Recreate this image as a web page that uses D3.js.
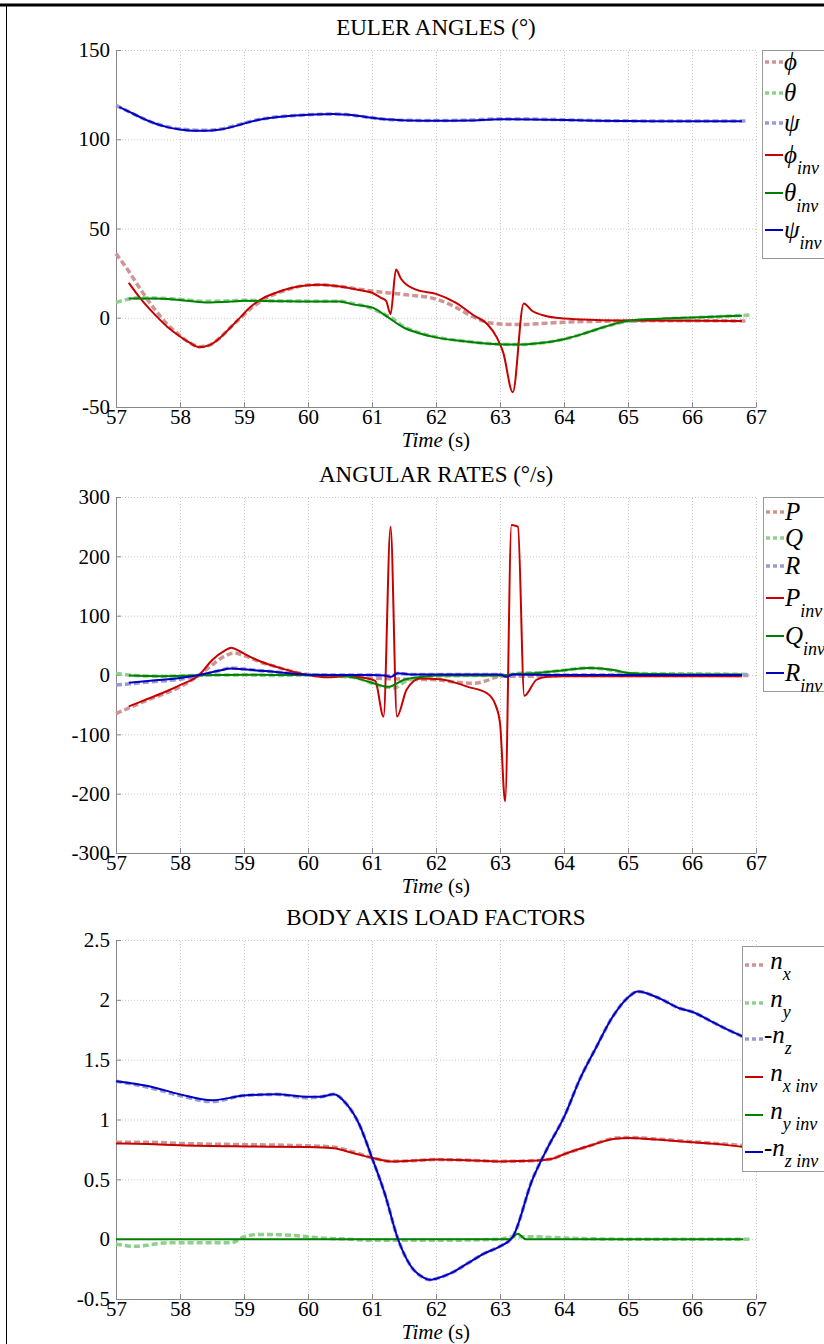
<!DOCTYPE html>
<html>
<head>
<meta charset="utf-8">
<script src="https://cdn.jsdelivr.net/npm/d3@7"></script>
<style>
  body { margin: 0; background: #fff; }
  svg { display: block; font-family: "Liberation Serif", "Times New Roman", serif; }
</style>
</head>
<body>
<div id="chart"></div>
<script>
const timeTicks = [57, 58, 59, 60, 61, 62, 63, 64, 65, 66, 67];
const eulerTicks = [-50, 0, 50, 100, 150];
const rateTicks = [-300, -200, -100, 0, 100, 200, 300];
const loadTicks = [-0.5, 0, 0.5, 1, 1.5, 2, 2.5];

// Euler angles (deg)
const phiRef = [[57.0,35.9],[57.2,26],[57.4,15],[57.6,5],[57.8,-3.5],[58.0,-10],[58.15,-14],[58.3,-16.2],[58.45,-15.5],[58.6,-12],[58.8,-5],[58.95,0],[59.1,5],[59.3,10],[59.5,13.5],[59.75,16.5],[60.0,18.3],[60.2,18.5],[60.5,17.5],[60.8,16],[61.0,15],[61.5,13],[62.0,10.5],[62.3,6],[62.6,0.2],[62.8,-2.6],[63.0,-3.5],[63.3,-3.8],[63.6,-3.3],[64.0,-2.5],[64.5,-2],[65.0,-1.8],[66.0,-1.7],[66.88,-1.8]];
const thetaRef = [[57.0,8.6],[57.15,10],[57.3,11],[57.6,11],[58.0,10.3],[58.4,9.2],[58.8,9.5],[59.0,9.8],[59.5,9.5],[60.0,9.3],[60.5,9.2],[60.7,8],[60.9,6.5],[61.1,3.5],[61.3,0],[61.5,-5],[61.75,-8.5],[62.0,-10.8],[62.5,-13.3],[63.0,-14.8],[63.3,-15],[63.6,-14.3],[64.0,-12],[64.3,-9],[64.6,-5.5],[65.0,-2],[65.5,-0.8],[66.0,0],[66.5,0.8],[66.9,1.5]];
const psiRef = [[57.0,119],[57.2,115.5],[57.4,112],[57.6,109],[57.8,107],[58.0,105.8],[58.2,105.2],[58.4,105],[58.6,105.5],[58.8,107],[59.0,109],[59.2,110.8],[59.4,112],[59.6,112.8],[59.8,113.3],[60.0,113.7],[60.2,114],[60.4,114.2],[60.6,113.8],[60.8,113],[61.0,112],[61.2,111.2],[61.4,110.8],[61.6,110.6],[62.0,110.5],[62.5,110.7],[63.0,111.4],[63.5,111.3],[64.0,110.9],[64.5,110.5],[65.0,110.3],[66.0,110.2],[66.88,110.2]];
const phiInv = [[57.2,19.6],[57.4,10],[57.6,2],[57.8,-5],[58.0,-10.5],[58.15,-14],[58.3,-16.5],[58.45,-15.5],[58.6,-12],[58.8,-5],[58.95,0.5],[59.1,6],[59.3,11],[59.5,14],[59.75,16.8],[60.0,18.2],[60.2,18.5],[60.5,17.5],[60.8,15.5],[61.0,14],[61.15,11],[61.22,9.5],[61.29,2],[61.375,27],[61.45,22],[61.5,19.8],[61.7,15.6],[62.0,13.4],[62.3,8.6],[62.6,1.1],[62.8,-3.5],[62.95,-11],[63.05,-19.4],[63.2,-41.8],[63.37,8],[63.5,3.9],[63.7,1.1],[64.0,-0.4],[64.5,-1.2],[65.0,-1.5],[66.0,-1.7],[66.78,-1.8]];
const thetaInv = [[57.2,10.8],[57.6,10.8],[58.0,9.9],[58.4,8.6],[58.8,9.1],[59.0,9.5],[59.5,9.3],[60.0,9.1],[60.5,9.1],[60.7,7.5],[61.0,5.8],[61.2,1.5],[61.5,-5.6],[61.75,-8.8],[62.0,-11],[62.5,-13.4],[63.0,-14.8],[63.3,-15],[63.6,-14.3],[64.0,-12],[64.3,-9],[64.6,-5.5],[65.0,-1.7],[65.5,-0.5],[66.0,0.2],[66.5,0.8],[66.78,1.1]];
const psiInv = [[57.05,118],[57.2,115.5],[57.4,112],[57.6,109],[57.8,106.8],[58.0,105.5],[58.2,104.8],[58.4,104.7],[58.6,105.3],[58.8,106.8],[59.0,108.8],[59.2,110.6],[59.4,111.9],[59.6,112.7],[59.8,113.3],[60.0,113.7],[60.2,114],[60.4,114.2],[60.6,113.8],[60.8,113],[61.0,112],[61.2,111.2],[61.4,110.8],[61.6,110.5],[62.0,110.3],[62.5,110.5],[63.0,111.2],[63.5,111.1],[64.0,110.8],[64.5,110.4],[65.0,110.2],[66.0,110.1],[66.78,110.1]];

// angular rates (deg/s)
const pRef = [[57.0,-65],[57.5,-42],[58.0,-20],[58.3,0],[58.5,17],[58.7,32],[58.85,37],[59.0,33],[59.25,22],[59.5,14],[59.75,6],[60.0,1],[60.5,-2],[61.0,-5],[61.5,-7],[62.0,-8],[62.3,-12],[62.6,-14],[62.8,-9],[63.0,-2],[63.5,-2],[64.0,-1],[65.0,-1],[66.0,-1],[66.88,-1]];
const qRef = [[57.0,3],[57.3,-1],[57.7,-2],[58.0,-1.5],[58.5,0],[59.0,0],[59.5,-1],[60.0,0],[60.5,-2],[60.8,-6],[61.0,-14],[61.2,-20],[61.35,-22],[61.5,-12],[61.8,-4],[62.0,-2],[62.5,-1],[63.0,-1],[63.3,3],[63.6,4],[64.0,8],[64.4,12],[64.8,7],[65.0,3],[65.5,2],[66.0,2],[66.5,1.5],[66.88,1]];
const rRef = [[57.0,-17],[57.5,-12],[58.0,-7],[58.3,-1],[58.6,7],[58.8,12],[59.0,10],[59.5,5],[60.0,0],[60.5,0],[61.0,0],[61.2,-1],[61.3,-2],[61.4,3],[61.6,1],[62.0,1],[63.0,1],[63.1,-2],[63.2,1],[64.0,0],[65.0,0],[66.0,0],[66.88,0]];
const pInv = [[57.2,-53],[57.5,-40],[57.8,-27],[58.0,-17],[58.3,0],[58.5,25],[58.7,41],[58.8,46],[58.9,42],[59.0,36],[59.3,21],[59.5,14],[59.75,6],[60.0,0],[60.3,-4],[60.6,-2],[60.9,-5],[61.05,-10],[61.18,-70],[61.29,250],[61.39,-70],[61.54,-25],[61.75,-6],[62.06,-7],[62.5,-20],[62.8,-31],[62.92,-48],[63.0,-81],[63.08,-213],[63.18,253],[63.28,250],[63.38,-35],[63.57,-8],[63.73,-3],[64.0,-2],[65.0,-2],[66.0,-2],[66.78,-2]];
const qInv = [[57.2,-1],[57.7,-2],[58.2,-1],[58.6,0],[59.0,0.5],[59.5,0],[60.0,0],[60.5,-1],[60.7,-4],[61.0,-13],[61.25,-20],[61.5,-8],[61.8,-3],[62.0,-1],[62.5,-1],[63.0,-1],[63.3,2],[63.6,3.5],[64.0,8],[64.4,12],[64.8,8],[65.0,3.5],[65.5,1.5],[66.0,1],[66.78,1]];
const rInv = [[57.2,-13],[57.5,-10],[58.0,-5],[58.3,0],[58.6,7],[58.8,11],[59.0,9.5],[59.5,5],[60.0,0.5],[60.5,0],[61.0,0],[61.2,-1],[61.3,-3],[61.4,3],[61.6,1],[62.0,1],[63.0,1],[63.1,-3],[63.2,1],[64.0,0],[65.0,0],[66.0,0],[66.78,0]];

// body axis load factors
const nxRef = [[57.0,0.81],[57.5,0.81],[58.0,0.8],[59.0,0.79],[60.0,0.78],[60.4,0.77],[60.7,0.73],[61.0,0.68],[61.3,0.65],[61.6,0.655],[62.0,0.665],[62.5,0.66],[63.0,0.65],[63.5,0.655],[63.8,0.67],[64.0,0.71],[64.4,0.78],[64.8,0.845],[65.0,0.85],[65.5,0.835],[66.0,0.815],[66.5,0.795],[66.85,0.78]];
const nyRef = [[57.0,-0.04],[57.3,-0.06],[57.8,-0.03],[58.3,-0.03],[58.8,-0.03],[59.0,0.02],[59.25,0.04],[59.8,0.03],[60.2,0.01],[60.6,0],[61.0,-0.01],[62.0,-0.01],[63.0,0],[63.2,0.02],[63.5,0.02],[64.0,0.01],[65.0,0],[66.9,0]];
const nzRef = [[57.0,1.32],[57.5,1.27],[58.0,1.2],[58.5,1.15],[59.0,1.2],[59.5,1.21],[60.0,1.18],[60.2,1.19],[60.4,1.21],[60.6,1.13],[60.8,0.96],[61.0,0.68],[61.2,0.38],[61.4,0.01],[61.6,-0.22],[61.8,-0.32],[61.9,-0.34],[62.0,-0.33],[62.25,-0.28],[62.5,-0.2],[62.75,-0.12],[63.0,-0.06],[63.2,0.02],[63.5,0.49],[63.75,0.77],[64.0,1.02],[64.25,1.34],[64.5,1.6],[64.75,1.85],[65.0,2.02],[65.15,2.07],[65.5,2.01],[65.8,1.93],[66.0,1.9],[66.3,1.82],[66.6,1.74],[66.85,1.68]];
const nxInv = [[57.0,0.8],[57.5,0.795],[58.0,0.785],[59.0,0.775],[60.0,0.77],[60.4,0.76],[60.7,0.72],[61.0,0.68],[61.3,0.65],[61.6,0.655],[62.0,0.665],[62.5,0.66],[63.0,0.65],[63.5,0.655],[63.8,0.67],[64.0,0.71],[64.4,0.78],[64.8,0.84],[65.0,0.845],[65.5,0.83],[66.0,0.81],[66.5,0.79],[66.8,0.77]];
const nyInv = [[57.0,0],[63.15,0],[63.28,0.045],[63.4,0],[66.8,0]];
const nzInv = [[57.0,1.32],[57.5,1.28],[58.0,1.21],[58.5,1.16],[59.0,1.2],[59.5,1.21],[60.0,1.19],[60.2,1.19],[60.4,1.21],[60.6,1.13],[60.8,0.96],[61.0,0.68],[61.2,0.38],[61.4,0.01],[61.6,-0.22],[61.8,-0.32],[61.9,-0.34],[62.0,-0.33],[62.25,-0.28],[62.5,-0.2],[62.75,-0.12],[63.0,-0.06],[63.2,0.02],[63.5,0.49],[63.75,0.77],[64.0,1.02],[64.25,1.34],[64.5,1.6],[64.75,1.85],[65.0,2.02],[65.15,2.07],[65.5,2.01],[65.8,1.93],[66.0,1.9],[66.3,1.82],[66.6,1.74],[66.85,1.68]];

// ---- styles ----
const refRed = "#d09494", refGreen = "#8fcf8f", refBlue = "#9a9ad6";
const invRed = "#c80000", invGreen = "#008000", invBlue = "#0000c0";

const width = 824, height = 1344;
const x = d3.scaleLinear().domain([57, 67]).range([116, 756]);

const svg = d3.select("#chart").append("svg")
    .attr("width", width)
    .attr("height", height);

// cadre de la figure
svg.append("line").attr("x1", 0).attr("x2", width).attr("y1", 5).attr("y2", 5)
    .attr("stroke", "#000").attr("stroke-width", 3);
svg.append("line").attr("x1", 6.5).attr("x2", 6.5).attr("y1", 5).attr("y2", height)
    .attr("stroke", "#000").attr("stroke-width", 1);

const panels = [
    {
        title: "EULER ANGLES (°)", top: 50, bottom: 407, domain: [-50, 150], ticks: eulerTicks,
        series: [
            {data: phiRef, color: refRed, ref: true, label: ["", "ϕ", ""]},
            {data: thetaRef, color: refGreen, ref: true, label: ["", "θ", ""]},
            {data: psiRef, color: refBlue, ref: true, label: ["", "ψ", ""]},
            {data: phiInv, color: invRed, ref: false, label: ["", "ϕ", "inv"]},
            {data: thetaInv, color: invGreen, ref: false, label: ["", "θ", "inv"]},
            {data: psiInv, color: invBlue, ref: false, label: ["", "ψ", "inv"]}
        ],
        legend: {x: 762, y: 50, h: 208, rows: [12, 43, 73, 105, 143, 180], base: 8}
    },
    {
        title: "ANGULAR RATES (°/s)", top: 497, bottom: 853, domain: [-300, 300], ticks: rateTicks,
        series: [
            {data: pRef, color: refRed, ref: true, label: ["", "P", ""]},
            {data: qRef, color: refGreen, ref: true, label: ["", "Q", ""]},
            {data: rRef, color: refBlue, ref: true, label: ["", "R", ""]},
            {data: pInv, color: invRed, ref: false, label: ["", "P", "inv"]},
            {data: qInv, color: invGreen, ref: false, label: ["", "Q", "inv"]},
            {data: rInv, color: invBlue, ref: false, label: ["", "R", "inv"]}
        ],
        legend: {x: 763, y: 497, h: 194, rows: [15, 41, 69, 101, 139, 176], base: 8}
    },
    {
        title: "BODY AXIS LOAD FACTORS", top: 940, bottom: 1299, domain: [-0.5, 2.5], ticks: loadTicks,
        series: [
            {data: nxRef, color: refRed, ref: true, label: [" ", "n", "x"]},
            {data: nyRef, color: refGreen, ref: true, label: [" ", "n", "y"]},
            {data: nzRef, color: refBlue, ref: true, label: ["-", "n", "z"]},
            {data: nxInv, color: invRed, ref: false, label: [" ", "n", "x inv"]},
            {data: nyInv, color: invGreen, ref: false, label: [" ", "n", "y inv"]},
            {data: nzInv, color: invBlue, ref: false, label: ["-", "n", "z inv"]}
        ],
        legend: {x: 742, y: 946, h: 225, rows: [19, 57, 93, 131, 169, 206], base: 4}
    }
];

panels.forEach(p => {
    const y = d3.scaleLinear().domain(p.domain).range([p.bottom, p.top]);
    const g = svg.append("g");

    // grille pointillée
    g.append("g")
        .attr("transform", "translate(0," + p.bottom + ")")
        .call(d3.axisBottom(x).tickValues(timeTicks).tickSize(-(p.bottom - p.top)).tickFormat(""))
        .call(a => a.select(".domain").remove())
        .selectAll("line").attr("stroke", "#c8c8c8").attr("stroke-dasharray", "1,2");
    g.append("g")
        .attr("transform", "translate(" + x(57) + ",0)")
        .call(d3.axisLeft(y).tickValues(p.ticks).tickSize(-(x(67) - x(57))).tickFormat(""))
        .call(a => a.select(".domain").remove())
        .selectAll("line").attr("stroke", "#c8c8c8").attr("stroke-dasharray", "1,2");

    // axes
    const xAxis = g.append("g")
        .attr("transform", "translate(0," + p.bottom + ")")
        .call(d3.axisBottom(x).tickValues(timeTicks).tickSize(-5).tickSizeOuter(0).tickPadding(2).tickFormat(d => String(d)));
    const yAxis = g.append("g")
        .attr("transform", "translate(" + x(57) + ",0)")
        .call(d3.axisLeft(y).tickValues(p.ticks).tickSize(-5).tickSizeOuter(0).tickPadding(6).tickFormat(d => String(d)));
    [xAxis, yAxis].forEach(a => {
        a.select(".domain").attr("stroke", "#888");
        a.selectAll(".tick line").attr("stroke", "#888");
        a.selectAll("text").attr("font-family", "Liberation Serif").attr("font-size", 21).attr("fill", "#000");
    });

    // titre et libellé d'axe
    svg.append("text")
        .attr("x", (x(57) + x(67)) / 2).attr("y", p.top - 15)
        .attr("text-anchor", "middle").attr("font-size", 23)
        .text(p.title);
    const xl = svg.append("text")
        .attr("x", (x(57) + x(67)) / 2).attr("y", p.bottom + 40)
        .attr("text-anchor", "middle").attr("font-size", 21);
    xl.append("tspan").attr("font-style", "italic").text("Time");
    xl.append("tspan").text(" (s)");

    // courbes
    const line = d3.line()
        .x(d => x(d[0]))
        .y(d => y(d[1]))
        .curve(d3.curveMonotoneX);
    p.series.forEach(s => {
        g.append("path")
            .datum(s.data)
            .attr("fill", "none")
            .attr("stroke", s.color)
            .attr("stroke-width", s.ref ? 3.5 : 2)
            .attr("stroke-dasharray", s.ref ? "6,3" : null)
            .attr("stroke-linejoin", "round")
            .attr("d", line);
    });

    // légende
    const lg = svg.append("g").attr("transform", "translate(" + p.legend.x + "," + p.legend.y + ")");
    lg.append("rect")
        .attr("x", 0.5).attr("y", 0.5).attr("width", 120).attr("height", p.legend.h)
        .attr("fill", "#fff").attr("stroke", "#999");
    p.series.forEach((s, i) => {
        const ry = p.legend.rows[i];
        lg.append("line")
            .attr("x1", 3).attr("x2", 21).attr("y1", ry).attr("y2", ry)
            .attr("stroke", s.color)
            .attr("stroke-width", s.ref ? 3.5 : 2)
            .attr("stroke-dasharray", s.ref ? "4,3" : null);
        const t = lg.append("text")
            .attr("x", 22).attr("y", ry + p.legend.base)
            .attr("font-size", 25).attr("font-style", "italic")
            .attr("xml:space", "preserve");
        t.append("tspan").text(s.label[0] + s.label[1]);
        if (s.label[2]) {
            t.append("tspan").attr("dy", 11).attr("font-size", 18).text(s.label[2]);
        }
    });
});
</script>
</body>
</html>
